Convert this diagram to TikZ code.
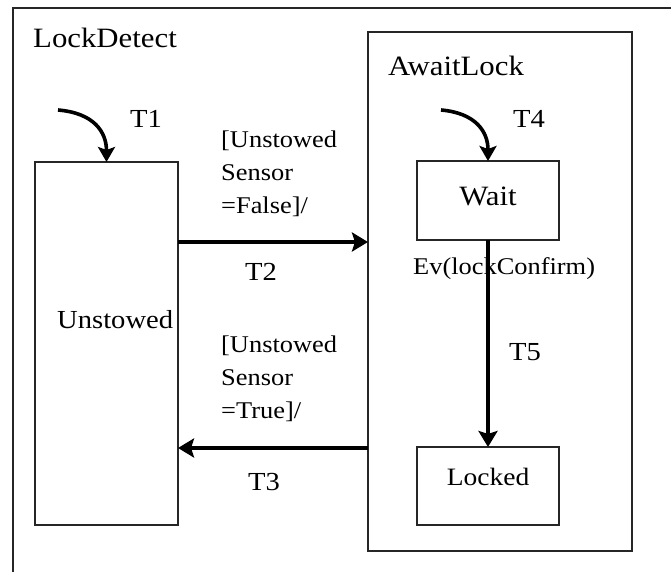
\documentclass[tikz,border=0pt]{standalone}
\usepackage{fontspec}
\setmainfont[FakeStretch=1.1]{Liberation Serif}
\usetikzlibrary{arrows.meta}
\tikzset{
  frameline/.style={line width=1.4pt, draw=black!85},
  statebox/.style={rectangle, draw=black!85, line width=1.4pt, inner sep=0pt, outer sep=0pt, fill=none},
  trans/.style={line width=3.6pt, -{Stealth[length=16pt,width=19pt,inset=3pt]}},
  initarrow/.style={line width=3.6pt, -{Stealth[length=15pt,width=17pt,inset=3pt]}},
  title/.style={anchor=base west, inner sep=0pt, font=\fontsize{28}{33}\selectfont},
  tlabel/.style={anchor=base west, inner sep=0pt, font=\fontsize{26}{30}\selectfont},
  guard/.style={anchor=north west, inner sep=0pt, align=left, font=\fontsize{24}{33}\selectfont},
  statetext/.style={anchor=base, inner sep=0pt, font=\fontsize{26}{30}\selectfont},
}
\begin{document}
\begin{tikzpicture}[x=1pt, y=-1pt]
\useasboundingbox (0,0) rectangle (671,572);

% outer composite state, open to the right and below
\coordinate (fbl) at (13,572);
\coordinate (ftl) at (13,8);
\coordinate (ftr) at (671,8);
\draw[frameline] (fbl) -- (ftl) -- (ftr);
\node[title] (lockdetect) at (33,48) {LockDetect};

% states
\node[statebox, minimum width=143pt, minimum height=363pt] (unstowed) at (106.5,343.5) {};
\node[statebox, minimum width=264pt, minimum height=519pt] (await) at (500,291.5) {};
\node[statebox, minimum width=142pt, minimum height=79pt] (wait) at (488,200.5) {};
\node[statebox, minimum width=142pt, minimum height=78pt] (locked) at (488,486) {};

\node[title] (awaitlock) at (388,76) {AwaitLock};
\node[tlabel] (unstowedtxt) at (57,328) {Unstowed};
\node[statetext, font=\fontsize{28}{30}\selectfont] (waittxt) at (488,205) {Wait};
\node[statetext, font=\fontsize{25}{30}\selectfont] (lockedtxt) at (488,485) {Locked};

% initial transitions
\coordinate (i1) at (58,110);
\coordinate (i4) at (441,110);
\draw[initarrow] (i1) .. controls (94,113) and (106.5,132) .. (unstowed.north);
\draw[initarrow] (i4) .. controls (476,113) and (488,132) .. (wait.north);
\node[tlabel] (t1) at (130,128) {T1};
\node[tlabel] (t4) at (513,128) {T4};

% T2: Unstowed -> AwaitLock
\coordinate (t2y) at (0,242);
\draw[trans] (unstowed.east |- t2y) -- (await.west |- t2y);
\node[guard] (g2) at (221,131) {[Unstowed\\Sensor\\=False]/};
\node[tlabel] (t2) at (245,280) {T2};

% T3: AwaitLock -> Unstowed
\coordinate (t3y) at (0,448);
\draw[trans] (await.west |- t3y) -- (unstowed.east |- t3y);
\node[guard] (g3) at (221,336) {[Unstowed\\Sensor\\=True]/};
\node[tlabel] (t3) at (248,490) {T3};

% T5: Wait -> Locked
\draw[trans, line width=3.2pt] (wait.south) -- (locked.north);
\node[anchor=base west, inner sep=0pt, font=\fontsize{24}{30}\selectfont] (ev) at (413,274) {Ev(lockConfirm)};
\node[tlabel] (t5) at (509,360) {T5};
\end{tikzpicture}
\end{document}
